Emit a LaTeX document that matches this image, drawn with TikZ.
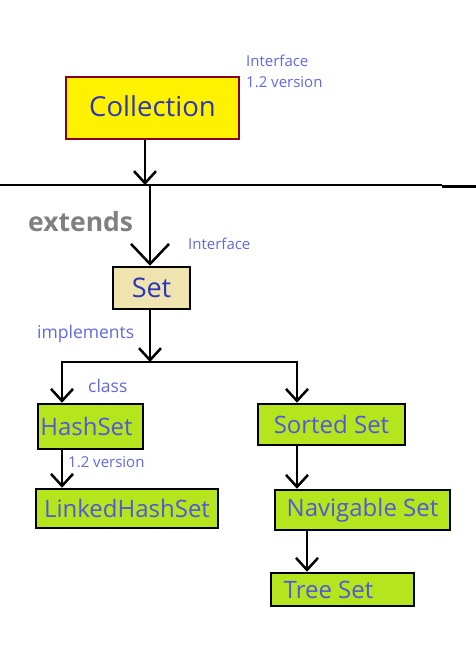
\documentclass[tikz,border=0pt]{standalone}
\usepackage{fontspec}
\setmainfont{Open Sans}
\usetikzlibrary{arrows.meta}
\definecolor{collfill}{HTML}{FFF200}
\definecolor{colldraw}{HTML}{880015}
\definecolor{setfill}{HTML}{EFE4B0}
\definecolor{greenfill}{HTML}{B5E61D}
\definecolor{darktext}{HTML}{2E36B8}
\definecolor{greentext}{HTML}{5058DC}
\definecolor{labeltext}{HTML}{6468E0}
\definecolor{extgray}{HTML}{808080}
\begin{document}
\begin{tikzpicture}[x=1pt,y=-1pt,
  box/.style={draw=black, line width=2.5pt, inner sep=0pt},
  greenbox/.style={box, fill=greenfill, text=greentext, font=\fontsize{24}{28}\selectfont},
  lbl/.style={anchor=west, inner sep=0pt, text=labeltext},
  conn/.style={line width=2.5pt},
  arr/.style={conn, -{Straight Barb[length=12pt,width=22pt]}},
  bigarr/.style={conn, -{Straight Barb[length=20pt,width=38pt]}}]
\useasboundingbox[fill=white] (0,0) rectangle (476,667);

% nodes
\node[box, draw=colldraw, fill=collfill, text=darktext, minimum width=173pt, minimum height=62pt,
      font=\fontsize{27.5}{32}\selectfont] (coll) at (152.5,108) {\raisebox{3pt}{Collection}};
\node[box, fill=setfill, text=darktext, minimum width=77pt, minimum height=42pt,
      font=\fontsize{27}{32}\selectfont] (set) at (151.5,288) {Set};
\node[greenbox, minimum width=105pt, minimum height=45pt] (hash) at (90.5,426.5) {HashSet\kern8pt};
\node[greenbox, minimum width=182pt, minimum height=39pt] (lhs) at (127,508.5) {LinkedHashSet};
\node[greenbox, minimum width=147pt, minimum height=41pt] (sorted) at (331.5,424.5) {Sorted Set};
\node[greenbox, minimum width=175pt, minimum height=40pt] (nav) at (362.5,510) {Navigable Set};
\node[greenbox, minimum width=143pt, minimum height=33pt] (tree) at (342.5,589.5) {Tree Set\kern28pt};

% labels
\node[lbl, font=\fontsize{15}{18}\selectfont] (l1) at (246,61) {Interface};
\node[lbl, font=\fontsize{15}{18}\selectfont] (l2) at (246,82) {1.2 version};
\node[lbl, text=extgray, font=\fontsize{26.5}{30}\selectfont\bfseries] (l3) at (28,222) {extends};
\node[lbl, font=\fontsize{15}{18}\selectfont] (l4) at (188,244) {Interface};
\node[lbl, font=\fontsize{17.5}{20}\selectfont] (l5) at (37,334) {implements};
\node[lbl, font=\fontsize{17.5}{20}\selectfont] (l6) at (88,386) {class};
\node[lbl, font=\fontsize{15}{18}\selectfont] (l7) at (68,462) {1.2 version};

% coordinates
\coordinate (a1) at (145,185);
\coordinate (L0) at (0,185);
\coordinate (L1) at (442,185);
\coordinate (L2) at (442,186.5);
\coordinate (L3) at (476,186.5);
\coordinate (v1) at (150,185);
\coordinate (j) at (150,362);
\coordinate (jl) at (62,362);
\coordinate (jr) at (297,362);
\coordinate (t3) at (307,531);

% connectors
\draw[arr] (coll.south -| a1) -- (a1);
\draw[conn] (L0) -- (L1);
\draw[conn] (L2) -- (L3);
\draw[bigarr] (v1) -- (set.north -| v1);
\draw[arr] (set.south -| j) -- (j);
\draw[conn] ([xshift=-1.25pt]jl) -- ([xshift=1.25pt]jr);
\draw[arr] (jl) -- (hash.north -| jl);
\draw[arr] (jr) -- (sorted.north -| jr);
\draw[arr] (hash.south -| jl) -- (lhs.north -| jl);
\draw[arr] (sorted.south -| jr) -- (nav.north -| jr);
\draw[arr] (nav.south -| t3) -- (tree.north -| t3);
\end{tikzpicture}
\end{document}
